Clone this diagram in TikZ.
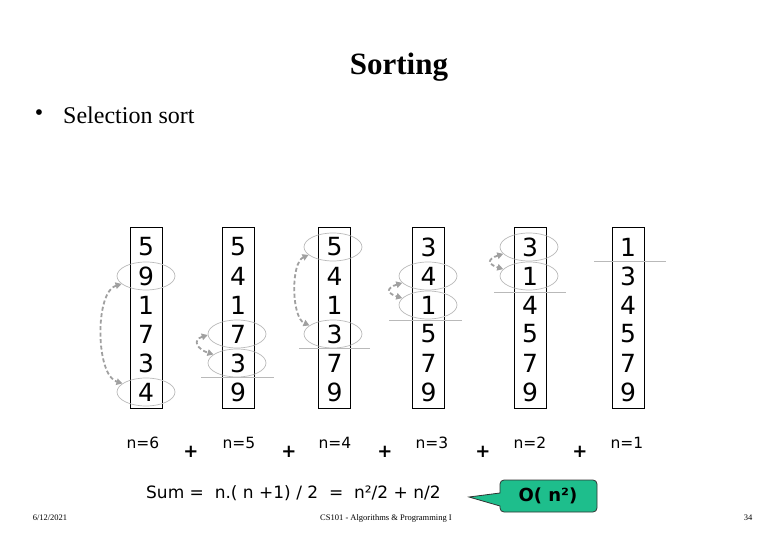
\documentclass[tikz,border=0pt]{standalone}
\usepackage{fontspec}
\setmainfont{Liberation Serif}
\newfontfamily\vsans{DejaVu Sans}
\usetikzlibrary{arrows.meta,shapes.geometric}
\definecolor{ringgray}{RGB}{185,185,185}
\definecolor{arrowgray}{RGB}{160,160,160}
\definecolor{callgreen}{RGB}{30,190,140}
\begin{document}
\begin{tikzpicture}[x=1pt,y=-1pt,
  col/.style={draw=black, line width=0.8pt, minimum width=32pt, minimum height=181pt, inner sep=0pt},
  digit/.style={font=\vsans\fontsize{25}{25}\selectfont, inner sep=0pt},
  ring/.style={draw=ringgray, ellipse, minimum width=58pt, minimum height=28pt, inner sep=0pt, line width=0.7pt},
  swaparrow/.style={draw=arrowgray, line width=1.8pt, dash pattern=on 4pt off 2.5pt, {Triangle[length=6pt,width=6.5pt]}-{Triangle[length=6pt,width=6.5pt]}},
  sepline/.style={draw=ringgray, line width=0.7pt},
  nlabel/.style={font=\vsans\fontsize{15.5}{16}\selectfont, inner sep=0pt},
  plussign/.style={font=\vsans\bfseries\fontsize{18}{18}\selectfont, inner sep=0pt},
  foot/.style={font=\fontsize{8.5}{9}\selectfont, inner sep=0pt},
]
\useasboundingbox (0,0) rectangle (780,540);

% title
\node[font=\bfseries\fontsize{31}{31}\selectfont, inner sep=0pt] (title) at (399,67) {Sorting};
\node[font=\fontsize{24}{24}\selectfont, inner sep=0pt] (bul) at (39,115) {\textbullet};
\node[font=\fontsize{24}{24}\selectfont, inner sep=0pt, anchor=west] (sub) at (63,115) {Selection sort};

% columns
\foreach \bx/\cx/\vals in {1/146/{5,9,1,7,3,4}, 2/238/{5,4,1,7,3,9}, 3/334.5/{5,4,1,3,7,9},
                            4/428.5/{3,4,1,5,7,9}, 5/530/{3,1,4,5,7,9}, 6/628/{1,3,4,5,7,9}} {
  \node[col] (b\bx) at (\cx,317.5) {};
  \foreach \v [count=\i] in \vals {
    \node[digit] (d\bx-\i) at (\cx,{247+29*(\i-1)}) {\v};
  }
}

% rings
\node[ring] (r1a) at (146,276) {};
\node[ring] (r1b) at (146,392) {};
\node[ring] (r2a) at (237,334) {};
\node[ring] (r2b) at (237,363) {};
\node[ring] (r3a) at (333,247) {};
\node[ring] (r3b) at (333,334) {};
\node[ring] (r4a) at (428,276) {};
\node[ring] (r4b) at (428,305) {};
\node[ring] (r5a) at (529,247) {};
\node[ring] (r5b) at (529,276) {};

% swap arrows
\draw[swaparrow] (r1a.198) .. controls +(-27,8) and +(-27,-8) .. (r1b.160);
\draw[swaparrow] (r2a.182) .. controls +(-16,5) and +(-16,-5) .. (r2b.160);
\draw[swaparrow] (r3a.198) .. controls +(-18,8) and +(-18,-8) .. (r3b.160);
\draw[swaparrow] (r4a.195) .. controls +(-16,5) and +(-16,-5) .. (r4b.165);
\draw[swaparrow] (r5a.195) .. controls +(-16,5) and +(-16,-5) .. (r5b.165);

% sorted-part separators
\draw[sepline] (201,377.5) -- (274,377.5);
\draw[sepline] (299,348.5) -- (370,348.5);
\draw[sepline] (389,320) -- (462,320);
\draw[sepline] (494,292) -- (566,292);
\draw[sepline] (594,261) -- (666,261);

% n labels and pluses
\node[nlabel] (n6) at (143,443) {n=6};
\node[nlabel] (n5) at (239,443) {n=5};
\node[nlabel] (n4) at (335,443) {n=4};
\node[nlabel] (n3) at (432,443) {n=3};
\node[nlabel] (n2) at (530,443) {n=2};
\node[nlabel] (n1) at (627,443) {n=1};
\node[plussign] (p1) at (191,452) {+};
\node[plussign] (p2) at (289,452) {+};
\node[plussign] (p3) at (385,452) {+};
\node[plussign] (p4) at (483,452) {+};
\node[plussign] (p5) at (580,452) {+};

% sum
\node[font=\vsans\fontsize{17}{18}\selectfont, inner sep=0pt, anchor=west] (sum) at (146,493) {Sum =\ \ n.( n +1) / 2\ \ =\ \ n²/2 + n/2};

% callout
\draw[fill=callgreen, draw=black!80, line width=0.8pt]
  (500,506) -- (469,497) -- (500,493) [rounded corners=4pt] -- (500,480) -- (597,480) -- (597,512) -- (500,512) [sharp corners] -- cycle;
\node[font=\vsans\bfseries\fontsize{18}{18}\selectfont, inner sep=0pt] (big) at (548,496) {O( n²)};

% footer
\node[foot] (date) at (50,518) {6/12/2021};
\node[foot] (course) at (386,518) {CS101 - Algorithms \& Programming I};
\node[foot] (page) at (748,518) {34};
\end{tikzpicture}
\end{document}
